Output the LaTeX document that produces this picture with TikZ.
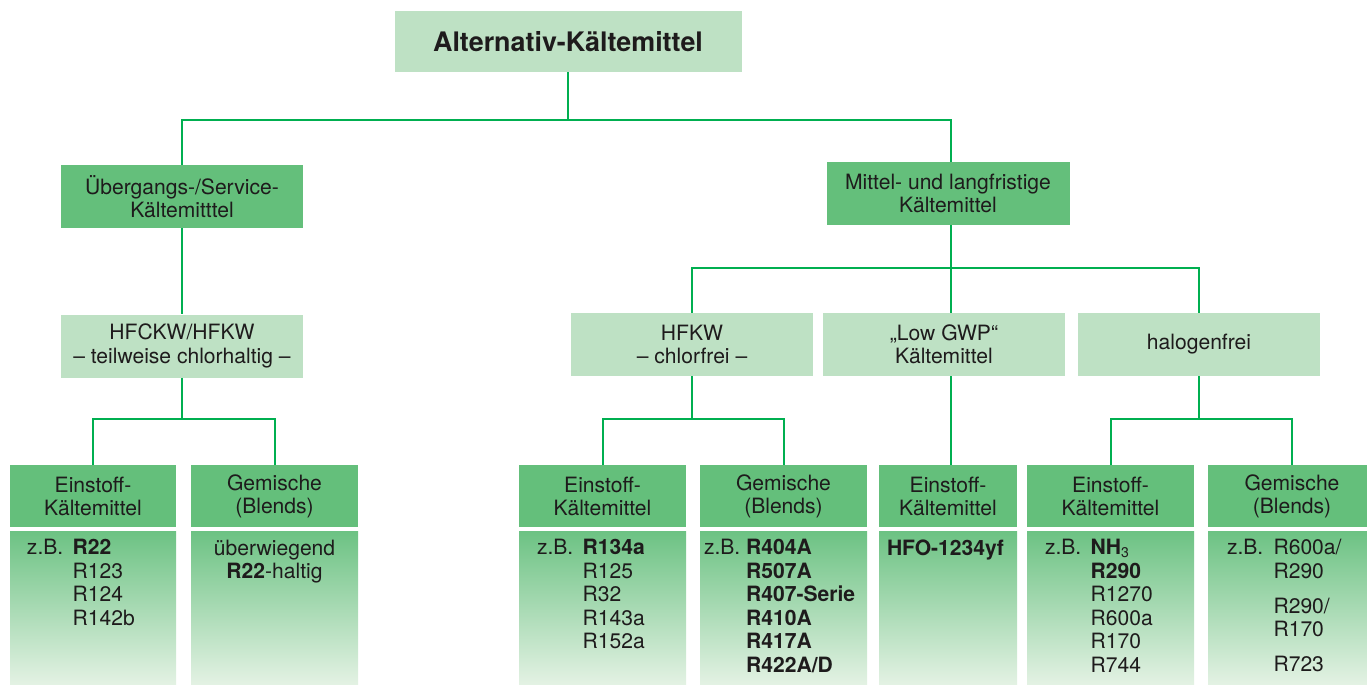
\documentclass[tikz,border=0pt]{standalone}
\usepackage{fontspec}
\setmainfont{TeX Gyre Heros}
\usetikzlibrary{positioning}

\newdimen\px \px=0.02cm
\newcommand\txtsize{\fontsize{12}{13.4}\selectfont}

\definecolor{darkgr}{HTML}{64BF7B}
\definecolor{lightgr}{HTML}{BEE1C4}
\definecolor{linegr}{HTML}{00AF50}
\definecolor{bodytop}{HTML}{6CC283}
\definecolor{bodybot}{HTML}{E4F2E4}
\definecolor{txt}{HTML}{1E1B1C}

\begin{document}
\begin{tikzpicture}[x=\px, y=-\px, text=txt, font=\txtsize]
\useasboundingbox (0,0) rectangle (1367,684);

    \tikzstyle{conn}=[draw=linegr, line width=2\px];
    \tikzstyle{catbox}=[fill=darkgr, minimum width=242\px, minimum height=63\px, align=center];
    \tikzstyle{groupbox}=[fill=lightgr, minimum width=242\px, minimum height=63\px, align=center];
    \tikzstyle{headbox}=[fill=darkgr, minimum width=167\px, minimum height=62\px, align=center, anchor=north];
    \tikzstyle{bodybox}=[top color=bodytop, bottom color=bodybot, minimum width=167\px, minimum height=154\px];
    \tikzstyle{itemlist}=[inner sep=0pt];

% Ebene 1
\node[fill=lightgr, minimum width=347\px, minimum height=61\px,
      font=\fontsize{15.3}{18}\selectfont\bfseries] (root) at (568,41.5) {Alternativ-Kältemittel};

% Ebene 2
\node[catbox] (svc) at (182,196.5) {Übergangs-/Service-\\Kältemitttel};
\node[catbox, minimum width=243\px] (mlf) at (948,193.5) {Mittel- und langfristige\\Kältemittel};

% Ebene 3
\node[groupbox] (hfckw) at (182,346) {HFCKW/HFKW\\– teilweise chlorhaltig –};
\node[groupbox] (hfkw) at (692,344.5) {HFKW\\– chlorfrei –};
\node[groupbox] (lowgwp) at (944,344.5) {„Low GWP“\\Kältemittel};
\node[groupbox] (halo) at (1199,344.5) {halogenfrei};

% Ebene 4: Kopf
\node[headbox, minimum width=166\px] (l1h) at (93,465) {Einstoff-\\Kältemittel};
\node[headbox] (l2h) at (274.5,465) {Gemische\\(Blends)};
\node[headbox] (m1h) at (602.5,465) {Einstoff-\\Kältemittel};
\node[headbox] (m2h) at (783.5,465) {Gemische\\(Blends)};
\node[headbox, minimum width=138\px] (r1h) at (948,465) {Einstoff-\\Kältemittel};
\node[headbox] (r2h) at (1110.5,465) {Einstoff-\\Kältemittel};
\node[headbox, minimum width=168\px] (r3h) at (1292,465) {Gemische\\(Blends)};

% Ebene 4: Inhalt
\node[bodybox, minimum width=166\px, below=3\px of l1h] (l1b) {};
\node[bodybox, below=3\px of l2h] (l2b) {};
\node[bodybox, below=3\px of m1h] (m1b) {};
\node[bodybox, below=3\px of m2h] (m2b) {};
\node[bodybox, minimum width=138\px, below=3\px of r1h] (r1b) {};
\node[bodybox, below=3\px of r2h] (r2b) {};
\node[bodybox, minimum width=168\px, below=3\px of r3h] (r3b) {};

\node[itemlist, below right=7\px and 17\px of l1b.north west] (l1t)
  {\begin{tabular}{@{}p{26pt}@{}l@{}} z.B. & \textbf{R22}\\ & R123\\ & R124\\ & R142b\end{tabular}};
\node[itemlist, align=center, below=9\px of l2b.north] (l2t) {überwiegend\\\textbf{R22}-haltig};
\node[itemlist, below right=7\px and 18\px of m1b.north west] (m1t)
  {\begin{tabular}{@{}p{26pt}@{}l@{}} z.B. & \textbf{R134a}\\ & R125\\ & R32\\ & R143a\\ & R152a\end{tabular}};
\node[itemlist, below right=7\px and 4\px of m2b.north west] (m2t)
  {\begin{tabular}{@{}p{24pt}@{}l@{}} z.B. & \textbf{R404A}\\ & \textbf{R507A}\\ & \textbf{R407-Serie}\\
   & \textbf{R410A}\\ & \textbf{R417A}\\ & \textbf{R422A/D}\end{tabular}};
\node[itemlist, below right=9\px and 8\px of r1b.north west] (r1t) {\textbf{HFO-1234yf}};
\node[itemlist, below right=7\px and 18\px of r2b.north west] (r2t)
  {\begin{tabular}{@{}p{26pt}@{}l@{}} z.B. & \textbf{NH}\textsubscript{3}\\ & \textbf{R290}\\ & R1270\\
   & R600a\\ & R170\\ & R744\end{tabular}};
\node[itemlist, below right=7\px and 19\px of r3b.north west] (r3t)
  {\begin{tabular}{@{}p{26.5pt}@{}l@{}} z.B. & R600a/\\ & R290\\[6.6pt] & R290/\\ & R170\\[6.2pt] & R723\end{tabular}};

% Verbindungen
\coordinate (tbus) at (568,120);
\coordinate (rbus) at (951,268);
\coordinate (lbus) at (182,419);
\coordinate (mbus) at (692,419);
\coordinate (hbus) at (1199,419);

\draw[conn] (root.south) -- (tbus);
\draw[conn] (svc) |- (tbus) -| (mlf.north -| rbus);
\draw[conn] (mlf.south -| rbus) -- (rbus);
\draw[conn] (hfkw) |- (rbus) -| (halo);
\draw[conn] (rbus) -- (lowgwp.north -| rbus);
\draw[conn] (lowgwp.south -| rbus) -- (r1h.north -| rbus);
\draw[conn] (svc) -- (hfckw);
\draw[conn] (hfckw) -- (lbus);
\draw[conn] (l1h) |- (lbus) -| (l2h);
\draw[conn] (hfkw) -- (mbus);
\draw[conn] (m1h) |- (mbus) -| (m2h);
\draw[conn] (halo) -- (hbus);
\draw[conn] (r2h) |- (hbus) -| (r3h);
\end{tikzpicture}
\end{document}
